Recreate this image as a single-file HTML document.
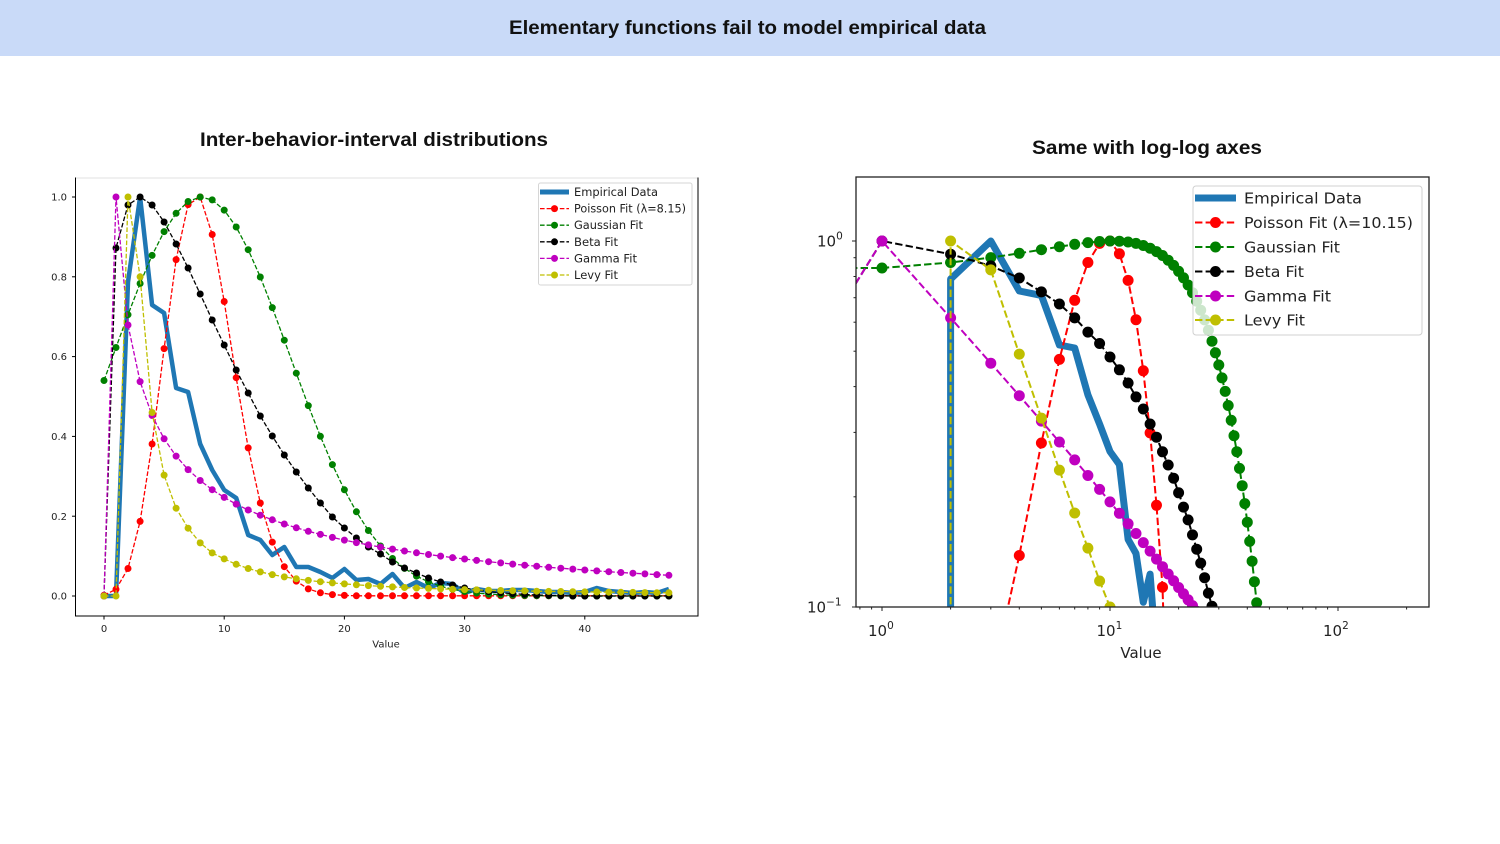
<!DOCTYPE html>
<html><head><meta charset="utf-8"><style>
html,body{margin:0;padding:0;background:#fff;width:1500px;height:844px;overflow:hidden;}
svg{display:block;}
</style></head><body>
<svg width="1500" height="844" viewBox="0 0 1500 844" xmlns="http://www.w3.org/2000/svg">
<defs>
<clipPath id="cl"><rect x="75.5" y="178" width="622.5" height="438"/></clipPath>
<clipPath id="cr"><rect x="856" y="177" width="573" height="430"/></clipPath>
</defs>
<rect x="0" y="0" width="1500" height="844" fill="#fff"/>
<rect x="0" y="0" width="1500" height="56" fill="#c9daf8"/>
<text x="747.5" y="34" text-anchor="middle" font-family="Liberation Sans, sans-serif" font-weight="bold" font-size="19" textLength="477" lengthAdjust="spacingAndGlyphs" fill="#111">Elementary functions fail to model empirical data</text>
<text x="374" y="146" text-anchor="middle" font-family="Liberation Sans, sans-serif" font-weight="bold" font-size="19" textLength="348" lengthAdjust="spacingAndGlyphs" fill="#111">Inter-behavior-interval distributions</text>
<text x="1147" y="154" text-anchor="middle" font-family="Liberation Sans, sans-serif" font-weight="bold" font-size="19" textLength="230" lengthAdjust="spacingAndGlyphs" fill="#111">Same with log-log axes</text>

<!-- LEFT CHART -->
<g clip-path="url(#cl)" fill="none" stroke-linejoin="round">
<polyline stroke="#1f77b4" stroke-width="4.5" points="104,596 116,596 128,282 140.1,197 152.1,305 164.1,313 176.1,388 188.1,392 200.2,444 212.2,470 224.2,490 236.2,498 248.2,535 260.3,540 272.3,555 284.3,547 296.3,567 308.3,567 320.4,572 332.4,578 344.4,569 356.4,580 368.4,579 380.5,584 392.5,574 404.5,588 416.5,582 428.5,588 440.6,583 452.6,584 464.6,593 476.6,589 488.6,591 500.7,591 512.7,590 524.7,590 536.7,591 548.7,592 560.8,592 572.8,593 584.8,592 596.8,588 608.8,591 620.9,592 632.9,593 644.9,592 656.9,593 668.9,589"/>
<polyline stroke="#ff0000" stroke-width="1.3" stroke-dasharray="4.6,2" points="104,595.2 116,589.3 128,568.5 140.1,521.4 152.1,444 164.1,348.6 176.1,259.6 188.1,204.6 200.2,197 212.2,234.5 224.2,301.5 236.2,377.7 248.2,447.9 260.3,503 272.3,542.1 284.3,566.7 296.3,581.1 308.3,588.9 320.4,592.8 332.4,594.6 344.4,595.4 356.4,595.8 368.4,595.8 380.5,595.8 392.5,595.8 404.5,595.8 416.5,595.8 428.5,595.8 440.6,595.8 452.6,595.8 464.6,595.8 476.6,595.8 488.6,595.8 500.7,595.8 512.7,595.8 524.7,595.8 536.7,595.8 548.7,595.8 560.8,595.8 572.8,595.8 584.8,595.8 596.8,595.8 608.8,595.8 620.9,595.8 632.9,595.8 644.9,595.8 656.9,595.8 668.9,595.8"/>
<path stroke="#ff0000" stroke-width="7" stroke-linecap="round" d="M104 595.2h0M116 589.3h0M128 568.5h0M140.1 521.4h0M152.1 444h0M164.1 348.6h0M176.1 259.6h0M188.1 204.6h0M200.2 197h0M212.2 234.5h0M224.2 301.5h0M236.2 377.7h0M248.2 447.9h0M260.3 503h0M272.3 542.1h0M284.3 566.7h0M296.3 581.1h0M308.3 588.9h0M320.4 592.8h0M332.4 594.6h0M344.4 595.4h0M356.4 595.8h0M368.4 595.8h0M380.5 595.8h0M392.5 595.8h0M404.5 595.8h0M416.5 595.8h0M428.5 595.8h0M440.6 595.8h0M452.6 595.8h0M464.6 595.8h0M476.6 595.8h0M488.6 595.8h0M500.7 595.8h0M512.7 595.8h0M524.7 595.8h0M536.7 595.8h0M548.7 595.8h0M560.8 595.8h0M572.8 595.8h0M584.8 595.8h0M596.8 595.8h0M608.8 595.8h0M620.9 595.8h0M632.9 595.8h0M644.9 595.8h0M656.9 595.8h0M668.9 595.8h0"/>
<polyline stroke="#008000" stroke-width="1.3" stroke-dasharray="4.6,2" points="104,380.5 116,347.5 128,314.7 140.1,283.5 152.1,255.4 164.1,231.6 176.1,213.3 188.1,201.5 200.2,197 212.2,199.9 224.2,210.1 236.2,227 248.2,249.7 260.3,277 272.3,307.6 284.3,340.2 296.3,373.2 308.3,405.6 320.4,436.3 332.4,464.6 344.4,489.8 356.4,511.8 368.4,530.5 380.5,546 392.5,558.5 404.5,568.4 416.5,576.1 428.5,581.9 440.6,586.2 452.6,589.3 464.6,591.5 476.6,593 488.6,594.1 500.7,594.8 512.7,595.2 524.7,595.5 536.7,595.7 548.7,595.8 560.8,595.9 572.8,596 584.8,596 596.8,596 608.8,596 620.9,596 632.9,596 644.9,596 656.9,596 668.9,596"/>
<path stroke="#008000" stroke-width="7" stroke-linecap="round" d="M104 380.5h0M116 347.5h0M128 314.7h0M140.1 283.5h0M152.1 255.4h0M164.1 231.6h0M176.1 213.3h0M188.1 201.5h0M200.2 197h0M212.2 199.9h0M224.2 210.1h0M236.2 227h0M248.2 249.7h0M260.3 277h0M272.3 307.6h0M284.3 340.2h0M296.3 373.2h0M308.3 405.6h0M320.4 436.3h0M332.4 464.6h0M344.4 489.8h0M356.4 511.8h0M368.4 530.5h0M380.5 546h0M392.5 558.5h0M404.5 568.4h0M416.5 576.1h0M428.5 581.9h0M440.6 586.2h0M452.6 589.3h0M464.6 591.5h0M476.6 593h0M488.6 594.1h0M500.7 594.8h0M512.7 595.2h0M524.7 595.5h0M536.7 595.7h0M548.7 595.8h0M560.8 595.9h0M572.8 596h0M584.8 596h0M596.8 596h0M608.8 596h0M620.9 596h0M632.9 596h0M644.9 596h0M656.9 596h0M668.9 596h0"/>
<polyline stroke="#000" stroke-width="1.3" stroke-dasharray="4.6,2" points="104,596 116,248 128,205 140.1,197 152.1,205 164.1,222 176.1,244 188.1,268 200.2,294 212.2,320 224.2,345 236.2,370 248.2,393 260.3,416 272.3,436 284.3,455 296.3,472 308.3,488 320.4,503 332.4,517 344.4,528 356.4,538 368.4,547 380.5,554 392.5,562 404.5,568 416.5,573 428.5,578 440.6,582 452.6,585 464.6,588 476.6,590 488.6,591.6 500.7,592.8 512.7,593.6 524.7,594.4 536.7,595 548.7,595.4 560.8,595.7 572.8,596 584.8,596 596.8,596 608.8,596 620.9,596 632.9,596 644.9,596 656.9,596 668.9,596"/>
<path stroke="#000" stroke-width="7" stroke-linecap="round" d="M104 596h0M116 248h0M128 205h0M140.1 197h0M152.1 205h0M164.1 222h0M176.1 244h0M188.1 268h0M200.2 294h0M212.2 320h0M224.2 345h0M236.2 370h0M248.2 393h0M260.3 416h0M272.3 436h0M284.3 455h0M296.3 472h0M308.3 488h0M320.4 503h0M332.4 517h0M344.4 528h0M356.4 538h0M368.4 547h0M380.5 554h0M392.5 562h0M404.5 568h0M416.5 573h0M428.5 578h0M440.6 582h0M452.6 585h0M464.6 588h0M476.6 590h0M488.6 591.6h0M500.7 592.8h0M512.7 593.6h0M524.7 594.4h0M536.7 595h0M548.7 595.4h0M560.8 595.7h0M572.8 596h0M584.8 596h0M596.8 596h0M608.8 596h0M620.9 596h0M632.9 596h0M644.9 596h0M656.9 596h0M668.9 596h0"/>
<polyline stroke="#bf00bf" stroke-width="1.3" stroke-dasharray="4.6,2" points="104,596 116,197 128,325 140.1,381.6 152.1,415.5 164.1,438.8 176.1,456.1 188.1,469.6 200.2,480.5 212.2,489.7 224.2,497.4 236.2,504.1 248.2,510 260.3,515.2 272.3,519.8 284.3,524 296.3,527.8 308.3,531.3 320.4,534.4 332.4,537.4 344.4,540.1 356.4,542.6 368.4,544.9 380.5,547.1 392.5,549.1 404.5,551 416.5,552.8 428.5,554.5 440.6,556.1 452.6,557.6 464.6,559 476.6,560.4 488.6,561.7 500.7,562.9 512.7,564.1 524.7,565.2 536.7,566.2 548.7,567.3 560.8,568.2 572.8,569.1 584.8,570 596.8,570.9 608.8,571.7 620.9,572.5 632.9,573.2 644.9,573.9 656.9,574.6 668.9,575.3"/>
<path stroke="#bf00bf" stroke-width="7" stroke-linecap="round" d="M104 596h0M116 197h0M128 325h0M140.1 381.6h0M152.1 415.5h0M164.1 438.8h0M176.1 456.1h0M188.1 469.6h0M200.2 480.5h0M212.2 489.7h0M224.2 497.4h0M236.2 504.1h0M248.2 510h0M260.3 515.2h0M272.3 519.8h0M284.3 524h0M296.3 527.8h0M308.3 531.3h0M320.4 534.4h0M332.4 537.4h0M344.4 540.1h0M356.4 542.6h0M368.4 544.9h0M380.5 547.1h0M392.5 549.1h0M404.5 551h0M416.5 552.8h0M428.5 554.5h0M440.6 556.1h0M452.6 557.6h0M464.6 559h0M476.6 560.4h0M488.6 561.7h0M500.7 562.9h0M512.7 564.1h0M524.7 565.2h0M536.7 566.2h0M548.7 567.3h0M560.8 568.2h0M572.8 569.1h0M584.8 570h0M596.8 570.9h0M608.8 571.7h0M620.9 572.5h0M632.9 573.2h0M644.9 573.9h0M656.9 574.6h0M668.9 575.3h0"/>
<polyline stroke="#bfbf00" stroke-width="1.3" stroke-dasharray="4.6,2" points="104,596 116,596 128,197 140.1,276.8 152.1,412.5 164.1,475.1 176.1,508.2 188.1,528.2 200.2,542.9 212.2,552.9 224.2,558.9 236.2,564.3 248.2,568.5 260.3,571.9 272.3,574.6 284.3,576.9 296.3,578.8 308.3,580.4 320.4,581.7 332.4,582.9 344.4,583.9 356.4,584.8 368.4,585.6 380.5,586.3 392.5,586.9 404.5,587.5 416.5,588 428.5,588.4 440.6,588.9 452.6,589.2 464.6,589.6 476.6,589.9 488.6,590.2 500.7,590.5 512.7,590.7 524.7,590.9 536.7,591.2 548.7,591.4 560.8,591.5 572.8,591.7 584.8,591.9 596.8,592 608.8,592.2 620.9,592.3 632.9,592.4 644.9,592.6 656.9,592.7 668.9,592.8"/>
<path stroke="#bfbf00" stroke-width="7" stroke-linecap="round" d="M104 596h0M116 596h0M128 197h0M140.1 276.8h0M152.1 412.5h0M164.1 475.1h0M176.1 508.2h0M188.1 528.2h0M200.2 542.9h0M212.2 552.9h0M224.2 558.9h0M236.2 564.3h0M248.2 568.5h0M260.3 571.9h0M272.3 574.6h0M284.3 576.9h0M296.3 578.8h0M308.3 580.4h0M320.4 581.7h0M332.4 582.9h0M344.4 583.9h0M356.4 584.8h0M368.4 585.6h0M380.5 586.3h0M392.5 586.9h0M404.5 587.5h0M416.5 588h0M428.5 588.4h0M440.6 588.9h0M452.6 589.2h0M464.6 589.6h0M476.6 589.9h0M488.6 590.2h0M500.7 590.5h0M512.7 590.7h0M524.7 590.9h0M536.7 591.2h0M548.7 591.4h0M560.8 591.5h0M572.8 591.7h0M584.8 591.9h0M596.8 592h0M608.8 592.2h0M620.9 592.3h0M632.9 592.4h0M644.9 592.6h0M656.9 592.7h0M668.9 592.8h0"/>
</g>
<!-- left spines -->
<line x1="75.5" y1="178" x2="698" y2="178" stroke="#e2e2e2" stroke-width="1"/>
<line x1="75.5" y1="177.5" x2="75.5" y2="616.5" stroke="#000" stroke-width="1"/>
<line x1="75" y1="616" x2="698.5" y2="616" stroke="#000" stroke-width="1"/>
<line x1="698" y1="177.5" x2="698" y2="616.5" stroke="#000" stroke-width="1"/>
<g stroke="#000" stroke-width="1">
<line x1="104" y1="616" x2="104" y2="619.5"/><line x1="224.2" y1="616" x2="224.2" y2="619.5"/><line x1="344.4" y1="616" x2="344.4" y2="619.5"/><line x1="464.6" y1="616" x2="464.6" y2="619.5"/><line x1="584.8" y1="616" x2="584.8" y2="619.5"/>
<line x1="72" y1="596" x2="75.5" y2="596"/><line x1="72" y1="516.2" x2="75.5" y2="516.2"/><line x1="72" y1="436.4" x2="75.5" y2="436.4"/><line x1="72" y1="356.6" x2="75.5" y2="356.6"/><line x1="72" y1="276.8" x2="75.5" y2="276.8"/><line x1="72" y1="197" x2="75.5" y2="197"/>
</g>
<g font-family="DejaVu Sans, Liberation Sans, sans-serif" font-size="10" fill="#222">
<text x="104" y="632" text-anchor="middle">0</text>
<text x="224.2" y="632" text-anchor="middle">10</text>
<text x="344.4" y="632" text-anchor="middle">20</text>
<text x="464.6" y="632" text-anchor="middle">30</text>
<text x="584.8" y="632" text-anchor="middle">40</text>
<text x="67" y="599.6" text-anchor="end">0.0</text>
<text x="67" y="519.8" text-anchor="end">0.2</text>
<text x="67" y="440" text-anchor="end">0.4</text>
<text x="67" y="360.2" text-anchor="end">0.6</text>
<text x="67" y="280.4" text-anchor="end">0.8</text>
<text x="67" y="200.6" text-anchor="end">1.0</text>
<text x="386" y="647.5" text-anchor="middle">Value</text>
</g>
<!-- left legend -->
<rect x="538.5" y="183" width="153.5" height="102" rx="2" fill="#fff" fill-opacity="0.85" stroke="#d6d6d6" stroke-width="1"/>
<rect x="540" y="189.5" width="29" height="5" fill="#1f77b4"/>
<g stroke-width="1.3" stroke-dasharray="4.6,2" fill="none">
<line x1="540" y1="208.6" x2="569" y2="208.6" stroke="#ff0000"/>
<line x1="540" y1="225.2" x2="569" y2="225.2" stroke="#008000"/>
<line x1="540" y1="241.8" x2="569" y2="241.8" stroke="#000"/>
<line x1="540" y1="258.4" x2="569" y2="258.4" stroke="#bf00bf"/>
<line x1="540" y1="275" x2="569" y2="275" stroke="#bfbf00"/>
</g>
<circle cx="554.5" cy="208.6" r="3.5" fill="#ff0000"/>
<circle cx="554.5" cy="225.2" r="3.5" fill="#008000"/>
<circle cx="554.5" cy="241.8" r="3.5" fill="#000"/>
<circle cx="554.5" cy="258.4" r="3.5" fill="#bf00bf"/>
<circle cx="554.5" cy="275" r="3.5" fill="#bfbf00"/>
<g font-family="DejaVu Sans, Liberation Sans, sans-serif" font-size="11.2" fill="#222">
<text x="574" y="196" textLength="84" lengthAdjust="spacingAndGlyphs">Empirical Data</text>
<text x="574" y="212.6" textLength="112" lengthAdjust="spacingAndGlyphs">Poisson Fit (λ=8.15)</text>
<text x="574" y="229.2" textLength="69" lengthAdjust="spacingAndGlyphs">Gaussian Fit</text>
<text x="574" y="245.8" textLength="44" lengthAdjust="spacingAndGlyphs">Beta Fit</text>
<text x="574" y="262.4" textLength="63" lengthAdjust="spacingAndGlyphs">Gamma Fit</text>
<text x="574" y="279" textLength="44" lengthAdjust="spacingAndGlyphs">Levy Fit</text>
</g>

<!-- RIGHT CHART -->
<g clip-path="url(#cr)" fill="none" stroke-linejoin="round">
<polyline stroke="#1f77b4" stroke-width="7" points="950.6,615 950.6,279.1 990.8,241 1019.3,291 1041.4,295.4 1059.4,345 1074.7,348 1087.9,394.8 1099.6,424.1 1110,451.5 1119.4,464.6 1128.1,539.4 1136,553.5 1143.3,602.3 1150.1,574.1 1152.6,607 1153,615"/>
<polyline stroke="#ff0000" stroke-width="2" stroke-dasharray="7.4,3.2" points="1006.2,615 1019.3,555.5 1041.4,443 1059.4,359.4 1074.7,300.3 1087.9,262.5 1099.6,243.4 1110,241 1119.4,253.8 1128.1,280.4 1136,319.7 1143.3,370.8 1150.1,432.9 1156.5,505.3 1162.5,587.2 1163.4,615"/>
<path stroke="#ff0000" stroke-width="11" stroke-linecap="round" d="M1019.3 555.5h0M1041.4 443h0M1059.4 359.4h0M1074.7 300.3h0M1087.9 262.5h0M1099.6 243.4h0M1110 241h0M1119.4 253.8h0M1128.1 280.4h0M1136 319.7h0M1143.3 370.8h0M1150.1 432.9h0M1156.5 505.3h0M1162.5 587.2h0"/>
<polyline stroke="#008000" stroke-width="2" stroke-dasharray="7.4,3.2" points="850,268 882,268 950.6,262.5 990.8,257.6 1019.3,253.3 1041.4,249.7 1059.4,246.7 1074.7,244.3 1087.9,242.6 1099.6,241.5 1110,241 1119.4,241.2 1128.1,242 1136,243.4 1143.3,245.5 1150.1,248.2 1156.5,251.6 1162.5,255.5 1168.2,260.2 1173.6,265.4 1178.6,271.3 1183.5,277.8 1188.1,285 1192.5,292.7 1196.7,301.2 1200.7,310.2 1204.6,319.9 1208.4,330.2 1212,341.2 1215.4,352.8 1218.8,365 1222,377.9 1225.2,391.4 1228.2,405.5 1231.2,420.3 1234,435.7 1236.8,451.7 1239.5,468.4 1242.2,485.7 1244.8,503.6 1247.3,522.2 1249.7,541.4 1252.1,561.2 1254.4,581.7 1256.7,602.8 1258.9,624.6"/>
<path stroke="#008000" stroke-width="11" stroke-linecap="round" d="M882 268h0M950.6 262.5h0M990.8 257.6h0M1019.3 253.3h0M1041.4 249.7h0M1059.4 246.7h0M1074.7 244.3h0M1087.9 242.6h0M1099.6 241.5h0M1110 241h0M1119.4 241.2h0M1128.1 242h0M1136 243.4h0M1143.3 245.5h0M1150.1 248.2h0M1156.5 251.6h0M1162.5 255.5h0M1168.2 260.2h0M1173.6 265.4h0M1178.6 271.3h0M1183.5 277.8h0M1188.1 285h0M1192.5 292.7h0M1196.7 301.2h0M1200.7 310.2h0M1204.6 319.9h0M1208.4 330.2h0M1212 341.2h0M1215.4 352.8h0M1218.8 365h0M1222 377.9h0M1225.2 391.4h0M1228.2 405.5h0M1231.2 420.3h0M1234 435.7h0M1236.8 451.7h0M1239.5 468.4h0M1242.2 485.7h0M1244.8 503.6h0M1247.3 522.2h0M1249.7 541.4h0M1252.1 561.2h0M1254.4 581.7h0M1256.7 602.8h0"/>
<polyline stroke="#000" stroke-width="2" stroke-dasharray="7.4,3.2" points="850,292.7 882,241 950.6,254.2 990.8,265.9 1019.3,278 1041.4,291.9 1059.4,304 1074.7,317.9 1087.9,332.1 1099.6,343.5 1110,357 1119.4,369.8 1128.1,383 1136,396.9 1143.3,409 1150.1,424 1156.5,437.2 1162.5,451.8 1168.2,465 1173.6,478.2 1178.6,492.8 1183.5,507.1 1188.1,519.9 1192.5,534.9 1196.7,549.2 1200.7,563.1 1204.6,577.7 1208.4,593.1 1212,606.3 1215.4,621.6"/>
<path stroke="#000" stroke-width="11" stroke-linecap="round" d="M882 241h0M950.6 254.2h0M990.8 265.9h0M1019.3 278h0M1041.4 291.9h0M1059.4 304h0M1074.7 317.9h0M1087.9 332.1h0M1099.6 343.5h0M1110 357h0M1119.4 369.8h0M1128.1 383h0M1136 396.9h0M1143.3 409h0M1150.1 424h0M1156.5 437.2h0M1162.5 451.8h0M1168.2 465h0M1173.6 478.2h0M1178.6 492.8h0M1183.5 507.1h0M1188.1 519.9h0M1192.5 534.9h0M1196.7 549.2h0M1200.7 563.1h0M1204.6 577.7h0M1208.4 593.1h0M1212 606.3h0"/>
<polyline stroke="#bf00bf" stroke-width="2" stroke-dasharray="7.4,3.2" points="850,292.7 882,241 950.6,317.9 990.8,363.2 1019.3,395.7 1041.4,421.1 1059.4,442 1074.7,459.9 1087.9,475.5 1099.6,489.4 1110,501.9 1119.4,513.3 1128.1,523.8 1136,533.5 1143.3,542.6 1150.1,551.1 1156.5,559.1 1162.5,566.7 1168.2,574 1173.6,580.8 1178.6,587.5 1183.5,593.8 1188.1,599.8 1192.5,605.6 1196.7,611.3 1200.7,617"/>
<path stroke="#bf00bf" stroke-width="11" stroke-linecap="round" d="M882 241h0M950.6 317.9h0M990.8 363.2h0M1019.3 395.7h0M1041.4 421.1h0M1059.4 442h0M1074.7 459.9h0M1087.9 475.5h0M1099.6 489.4h0M1110 501.9h0M1119.4 513.3h0M1128.1 523.8h0M1136 533.5h0M1143.3 542.6h0M1150.1 551.1h0M1156.5 559.1h0M1162.5 566.7h0M1168.2 574h0M1173.6 580.8h0M1178.6 587.5h0M1183.5 593.8h0M1188.1 599.8h0M1192.5 605.6h0M1196.7 611.3h0"/>
<polyline stroke="#bfbf00" stroke-width="2" stroke-dasharray="7.4,3.2" points="950.6,615 950.6,241 990.8,269.9 1019.3,354.1 1041.4,418.1 1059.4,470.1 1074.7,513 1087.9,548.1 1099.6,581 1110,607 1119.4,632.6"/>
<path stroke="#bfbf00" stroke-width="11" stroke-linecap="round" d="M950.6 241h0M990.8 269.9h0M1019.3 354.1h0M1041.4 418.1h0M1059.4 470.1h0M1074.7 513h0M1087.9 548.1h0M1099.6 581h0M1110 607h0"/>
</g>
<rect x="856" y="177" width="573" height="430" fill="none" stroke="#222" stroke-width="1.3"/>
<g stroke="#222" stroke-width="1">
<line x1="882" y1="607" x2="882" y2="611"/><line x1="1110" y1="607" x2="1110" y2="611"/><line x1="1338" y1="607" x2="1338" y2="611"/>
<line x1="859.9" y1="607" x2="859.9" y2="609.5"/><line x1="871.6" y1="607" x2="871.6" y2="609.5"/>
<line x1="950.6" y1="607" x2="950.6" y2="609.5"/><line x1="990.8" y1="607" x2="990.8" y2="609.5"/><line x1="1019.3" y1="607" x2="1019.3" y2="609.5"/><line x1="1041.4" y1="607" x2="1041.4" y2="609.5"/><line x1="1059.4" y1="607" x2="1059.4" y2="609.5"/><line x1="1074.7" y1="607" x2="1074.7" y2="609.5"/><line x1="1087.9" y1="607" x2="1087.9" y2="609.5"/><line x1="1099.6" y1="607" x2="1099.6" y2="609.5"/>
<line x1="1178.6" y1="607" x2="1178.6" y2="609.5"/><line x1="1218.8" y1="607" x2="1218.8" y2="609.5"/><line x1="1247.3" y1="607" x2="1247.3" y2="609.5"/><line x1="1269.4" y1="607" x2="1269.4" y2="609.5"/><line x1="1287.4" y1="607" x2="1287.4" y2="609.5"/><line x1="1302.7" y1="607" x2="1302.7" y2="609.5"/><line x1="1315.9" y1="607" x2="1315.9" y2="609.5"/><line x1="1327.6" y1="607" x2="1327.6" y2="609.5"/>
<line x1="1406.6" y1="607" x2="1406.6" y2="609.5"/>
<line x1="852" y1="241" x2="856" y2="241"/><line x1="852" y1="607" x2="856" y2="607"/>
<line x1="853.5" y1="496.8" x2="856" y2="496.8"/><line x1="853.5" y1="432.4" x2="856" y2="432.4"/><line x1="853.5" y1="386.6" x2="856" y2="386.6"/><line x1="853.5" y1="351.2" x2="856" y2="351.2"/><line x1="853.5" y1="322.2" x2="856" y2="322.2"/><line x1="853.5" y1="297.7" x2="856" y2="297.7"/><line x1="853.5" y1="276.5" x2="856" y2="276.5"/><line x1="853.5" y1="257.7" x2="856" y2="257.7"/>
</g>
<g font-family="DejaVu Sans, Liberation Sans, sans-serif" font-size="15" fill="#222">
<text x="868" y="636">10<tspan font-size="10.5" dy="-7">0</tspan></text>
<text x="1096.5" y="636">10<tspan font-size="10.5" dy="-7">1</tspan></text>
<text x="1323" y="636">10<tspan font-size="10.5" dy="-7">2</tspan></text>
<text x="817" y="246.5">10<tspan font-size="10.5" dy="-7">0</tspan></text>
<text x="807" y="612.5">10<tspan font-size="10.5" dy="-7">−1</tspan></text>
<text x="1141" y="658" text-anchor="middle">Value</text>
</g>
<!-- right legend -->
<rect x="1193" y="186" width="229" height="149" rx="3" fill="#fff" fill-opacity="0.8" stroke="#d0d0d0" stroke-width="1"/>
<rect x="1195" y="194.5" width="41" height="7" fill="#1f77b4"/>
<g stroke-width="2" stroke-dasharray="7.4,3.2" fill="none">
<line x1="1195" y1="222.5" x2="1236" y2="222.5" stroke="#ff0000"/>
<line x1="1195" y1="247" x2="1236" y2="247" stroke="#008000"/>
<line x1="1195" y1="271.5" x2="1236" y2="271.5" stroke="#000"/>
<line x1="1195" y1="296" x2="1236" y2="296" stroke="#bf00bf"/>
<line x1="1195" y1="320" x2="1236" y2="320" stroke="#bfbf00"/>
</g>
<circle cx="1215.5" cy="222.5" r="5.5" fill="#ff0000"/>
<circle cx="1215.5" cy="247" r="5.5" fill="#008000"/>
<circle cx="1215.5" cy="271.5" r="5.5" fill="#000"/>
<circle cx="1215.5" cy="296" r="5.5" fill="#bf00bf"/>
<circle cx="1215.5" cy="320" r="5.5" fill="#bfbf00"/>
<g font-family="DejaVu Sans, Liberation Sans, sans-serif" font-size="15.5" fill="#222">
<text x="1244" y="203.5" textLength="118" lengthAdjust="spacingAndGlyphs">Empirical Data</text>
<text x="1244" y="228" textLength="169" lengthAdjust="spacingAndGlyphs">Poisson Fit (λ=10.15)</text>
<text x="1244" y="252.5" textLength="96" lengthAdjust="spacingAndGlyphs">Gaussian Fit</text>
<text x="1244" y="277" textLength="60" lengthAdjust="spacingAndGlyphs">Beta Fit</text>
<text x="1244" y="301.5" textLength="87" lengthAdjust="spacingAndGlyphs">Gamma Fit</text>
<text x="1244" y="325.5" textLength="61" lengthAdjust="spacingAndGlyphs">Levy Fit</text>
</g>
</svg>
</body></html>
